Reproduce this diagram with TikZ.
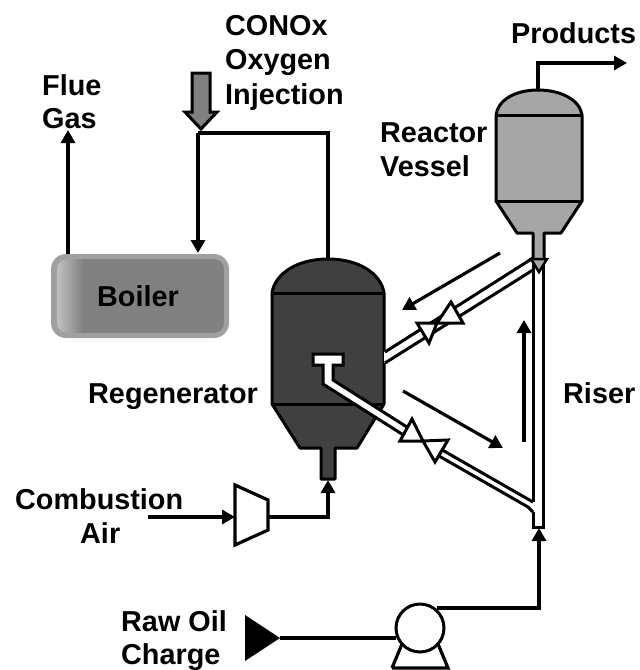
\documentclass[tikz,border=0pt]{standalone}
\usepackage{fontspec}
\setmainfont{Liberation Sans}
\usetikzlibrary{arrows.meta}
\definecolor{regen}{HTML}{404040}
\definecolor{react}{HTML}{A6A6A6}
\tikzset{
  lbl/.style={anchor=base west,inner sep=0pt,font=\fontsize{28.8}{33}\selectfont\bfseries},
  ln/.style={line width=3.2pt,line join=miter},
  flow/.style={ln,-{Triangle[length=13pt,width=14pt]}},
  vesselline/.style={line width=3pt,draw=black,line join=round},
  pipeline/.style={line width=3pt,draw=black},
  valve/.style={line width=3pt,draw=black,fill=white,line join=miter},
}
\begin{document}
\begin{tikzpicture}[x=1pt,y=-1pt]
\useasboundingbox (0,0) rectangle (640,670);
% coordinates
\coordinate (prodTop) at (538,90);
\coordinate (prodBend) at (538,63);
\coordinate (prodEnd) at (627,63);
\coordinate (flueStart) at (68,254);
\coordinate (flueEnd) at (68,130);
\coordinate (regTop) at (328,259);
\coordinate (injBendR) at (328,133);
\coordinate (injBendL) at (198,133);
\coordinate (boilerIn) at (198,253);
\coordinate (airStart) at (148,517);
\coordinate (compIn) at (235,517);
\coordinate (compOut) at (268,517);
\coordinate (airBend) at (328,517);
\coordinate (regIn) at (328,480);
\coordinate (pumpIn) at (396,638);
\coordinate (feedTip) at (280,638);
\coordinate (pumpOut) at (437,608);
\coordinate (riserBend) at (539,608);
\coordinate (riserIn) at (539,528);
% boiler
\fill[black!37,rounded corners=15pt] (51,254) rectangle (229,338);
\begin{scope}
  \clip[rounded corners=10pt] (57,259) rectangle (224,333);
  \fill[black!50] (57,259) rectangle (224,333);
  \shade[left color=black!25,right color=black!50] (57,259) rectangle (84,333);
\end{scope}
\node[lbl] (boiler) at (97,306) {Boiler};
% reactor vessel
\filldraw[vesselline,fill=react] (533,259) -- (533,233) -- (517,233) -- (496,201) -- (496,115)
  .. controls (498,100) and (515,90) .. (538,90) .. controls (561,90) and (580,100) .. (582,115)
  -- (582,201) -- (561,233) -- (544,233) -- (544,259);
\draw[vesselline] (496,115) -- (582,115) (496,201) -- (582,201);
% regenerator
\filldraw[vesselline,fill=regen] (321,479) -- (321,448) -- (300,448) -- (272,404) -- (272,293)
  .. controls (275,273) and (298,259) .. (328,259) .. controls (358,259) and (381,273) .. (384,293)
  -- (384,404) -- (357,448) -- (335,448) -- (335,479) -- cycle;
\draw[vesselline] (272,293) -- (384,293) (272,404) -- (384,404);
% upper pipe
\fill[white] (384,352) -- (533,258) -- (533,270) -- (384,363) -- cycle;
\draw[pipeline] (385,352) -- (533,258) (385,363) -- (533,270);
% riser
\fill[white] (533,262) rectangle (543,527);
\draw[pipeline] (533,258) -- (533,502) (533,512) -- (533,527) -- (543,527) -- (543,258);
% cap and V mark at riser top
\draw[pipeline,line width=2.5pt,fill=react] (531,259) -- (547,259) -- (539,272) -- cycle;
% lower pipe with distributor
\fill[white] (405,436) -- (323,384) -- (323,365) -- (313,365) -- (313,354) -- (343,354) -- (343,365) -- (333,365) -- (333,380) -- (410,429) -- cycle;
\draw[pipeline,line join=miter] (405,436) -- (323,384) -- (323,365) -- (313,365) -- (313,354) -- (343,354) -- (343,365) -- (333,365) -- (333,380) -- (410,429);
\fill[white] (432,452) -- (437,447) -- (533,502) -- (533,513) -- (528,507) -- cycle;
\draw[pipeline] (437,447) -- (533,502) (432,452) -- (528,507) -- (533,512);
% valves
\draw[valve] (417,323) -- (437,323) -- (429,343) -- cycle;
\draw[valve] (451,302) -- (463,323) -- (437,323) -- cycle;
\draw[valve] (412,419) -- (423,441) -- (400,441) -- cycle;
\draw[valve] (423,441) -- (448,440) -- (435,462) -- cycle;
% direction arrows
\coordinate (a1s) at (500,253); \coordinate (a1e) at (402,310);
\coordinate (a2s) at (403,391); \coordinate (a2e) at (503,448);
\coordinate (a3s) at (524,442); \coordinate (a3e) at (524,320);
\draw[flow] (a1s) -- (a1e);
\draw[flow] (a2s) -- (a2e);
\draw[flow] (a3s) -- (a3e);
% process lines
\draw[flow] (prodTop) -- (prodBend) -- (prodEnd);
\draw[flow] (flueStart) -- (flueEnd);
\draw[ln] (regTop) -- (injBendR) -- (injBendL);
\draw[flow] (injBendL) -- (boilerIn);
\draw[flow] (airStart) -- (compIn);
\draw[flow] (compOut) -- (airBend) -- (regIn);
\draw[flow] (pumpOut) -- (riserBend) -- (riserIn);
\draw[ln] (feedTip) -- (pumpIn);
% injection arrow
\filldraw[fill=black!50,draw=black,line width=3pt,line join=miter]
  (192,73) -- (210,73) -- (210,112) -- (217,112) -- (201,129) -- (185,112) -- (192,112) -- cycle;
% compressor
\draw[ln,fill=white] (235,485) -- (268,500) -- (268,530) -- (235,545) -- cycle;
% pump
\draw[ln] (392,668) -- (402,644) (392,668) -- (448,668) -- (438,644);
\node[circle,draw=black,line width=3pt,fill=white,minimum size=48pt,inner sep=0pt] (pump) at (420,628) {};
\fill (245,615) -- (280,638) -- (245,661) -- cycle;
% labels
\node[lbl] at (225,35) {CONOx};
\node[lbl] at (225,69) {Oxygen};
\node[lbl] at (225,104) {Injection};
\node[lbl] at (511,43) {Products};
\node[lbl] at (42,95) {Flue};
\node[lbl] at (42,128) {Gas};
\node[lbl] at (380,142) {Reactor};
\node[lbl] at (380,176) {Vessel};
\node[lbl] at (88,403) {Regenerator};
\node[lbl] at (563,403) {Riser};
\node[lbl] at (15,509) {Combustion};
\node[lbl] at (80,543) {Air};
\node[lbl] at (121,631) {Raw Oil};
\node[lbl] at (121,664) {Charge};
\end{tikzpicture}
\end{document}
